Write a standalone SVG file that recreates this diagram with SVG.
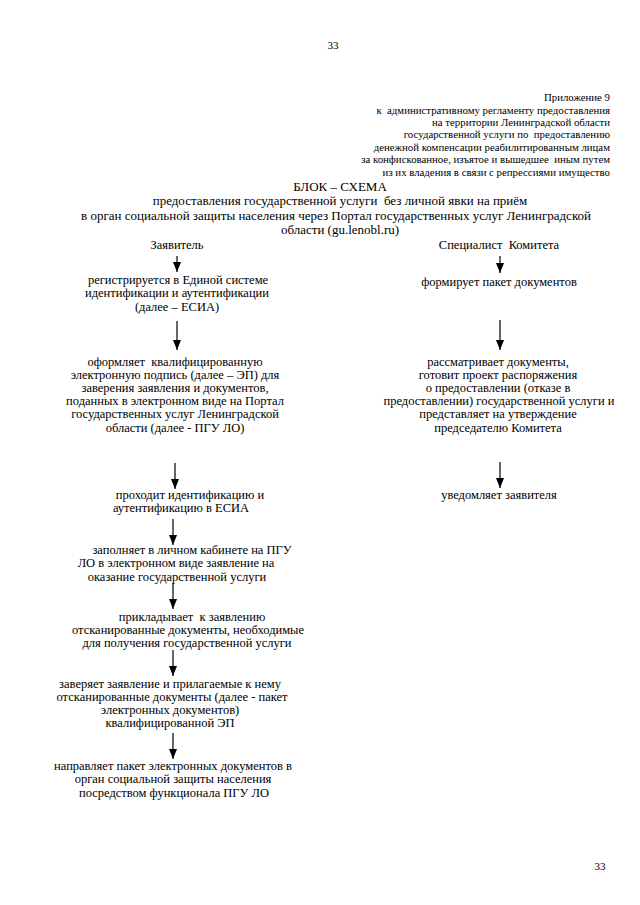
<svg xmlns="http://www.w3.org/2000/svg" width="640" height="905" viewBox="0 0 640 905">
<defs>
<marker id="ah" viewBox="0 0 10 8" refX="10" refY="4" markerWidth="10" markerHeight="8" markerUnits="userSpaceOnUse" orient="auto">
<path d="M0,0 L10,4 L0,8 Z" fill="#000"/>
</marker>
</defs>
<style>
text{font-family:"Liberation Serif","Times New Roman",serif;fill:#000;white-space:pre}
.pg{font-size:11px}
.hd{font-size:10.8px;text-anchor:end}
.tt{font-size:13px;text-anchor:middle}
.b{font-size:12.5px;text-anchor:middle}
.ar{stroke:#000;stroke-width:1.2;fill:none;marker-end:url(#ah)}
</style>
<rect width="640" height="905" fill="#fff"/>
<text class="pg" x="333" y="49" text-anchor="middle">33</text>
<g id="header">
<text class="hd" x="610" y="101">Приложение 9</text>
<text class="hd" x="610" y="113.5">к  административному регламенту предоставления</text>
<text class="hd" x="610" y="126">на территории Ленинградской области</text>
<text class="hd" x="610" y="138">государственной услуги по  предоставлению</text>
<text class="hd" x="610" y="150.5">денежной компенсации реабилитированным лицам</text>
<text class="hd" x="610" y="163">за конфискованное, изъятое и вышедшее  иным путем</text>
<text class="hd" x="610" y="175.5">из их владения в связи с репрессиями имущество</text>
</g>
<g id="title">
<text class="tt" x="340" y="191">БЛОК – СХЕМА</text>
<text class="tt" x="340" y="205">предоставления государственной услуги  без личной явки на приём</text>
<text class="tt" x="336" y="219.5">в орган социальной защиты населения через Портал государственных услуг Ленинградской</text>
<text class="tt" x="340" y="234">области (gu.lenobl.ru)</text>
</g>
<g id="applicant">
<text class="b" x="177" y="249">Заявитель</text>
</g>
<g id="specialist">
<text class="b" x="499" y="249">Специалист  Комитета</text>
</g>
<g id="l1">
<text class="b" x="178" y="284">регистрируется в Единой системе</text>
<text class="b" x="177" y="297">идентификации и аутентификации</text>
<text class="b" x="177" y="311">(далее – ЕСИА)</text>
</g>
<g id="l2">
<text class="b" x="175" y="366">оформляет  квалифицированную</text>
<text class="b" x="175" y="379">электронную подпись (далее – ЭП) для</text>
<text class="b" x="175" y="392">заверения заявления и документов,</text>
<text class="b" x="175" y="405">поданных в электронном виде на Портал</text>
<text class="b" x="175" y="418">государственных услуг Ленинградской</text>
<text class="b" x="175" y="432">области (далее - ПГУ ЛО)</text>
</g>
<g id="l3">
<text class="b" x="190" y="499">проходит идентификацию и</text>
<text class="b" x="181" y="512">аутентификацию в ЕСИА</text>
</g>
<g id="l4">
<text class="b" x="192" y="554">заполняет в личном кабинете на ПГУ</text>
<text class="b" x="176" y="567">ЛО в электронном виде заявление на</text>
<text class="b" x="177" y="581">оказание государственной услуги</text>
</g>
<g id="l5">
<text class="b" x="192" y="621">прикладывает  к заявлению</text>
<text class="b" x="188" y="634">отсканированные документы, необходимые</text>
<text class="b" x="187" y="647">для получения государственной услуги</text>
</g>
<g id="l6">
<text class="b" x="170" y="688">заверяет заявление и прилагаемые к нему</text>
<text class="b" x="172" y="701">отсканированные документы (далее - пакет</text>
<text class="b" x="170" y="714">электронных документов)</text>
<text class="b" x="170" y="727">квалифицированной ЭП</text>
</g>
<g id="l7">
<text class="b" x="173" y="770">направляет пакет электронных документов в</text>
<text class="b" x="173" y="783">орган социальной защиты населения</text>
<text class="b" x="174" y="797">посредством функционала ПГУ ЛО</text>
</g>
<g id="r1">
<text class="b" x="499" y="286">формирует пакет документов</text>
</g>
<g id="r2">
<text class="b" x="498" y="366">рассматривает документы,</text>
<text class="b" x="498" y="379">готовит проект распоряжения</text>
<text class="b" x="498" y="392">о предоставлении (отказе в</text>
<text class="b" x="499" y="405">предоставлении) государственной услуги и</text>
<text class="b" x="498" y="418">представляет на утверждение</text>
<text class="b" x="498" y="432">председателю Комитета</text>
</g>
<g id="r3">
<text class="b" x="499" y="499">уведомляет заявителя</text>
</g>
<g id="connectors">
<line class="ar" x1="177" y1="256" x2="177" y2="272"/>
<line class="ar" x1="177" y1="321" x2="177" y2="350"/>
<line class="ar" x1="175" y1="463" x2="175" y2="489"/>
<line class="ar" x1="173" y1="519" x2="173" y2="545"/>
<line class="ar" x1="173" y1="583" x2="173" y2="609"/>
<line class="ar" x1="173" y1="650" x2="173" y2="676"/>
<line class="ar" x1="173" y1="733" x2="173" y2="759"/>
<line class="ar" x1="500" y1="256" x2="500" y2="273"/>
<line class="ar" x1="500" y1="320" x2="500" y2="350"/>
<line class="ar" x1="500" y1="462" x2="500" y2="488"/>
</g>
<text class="pg" x="600" y="870" text-anchor="middle">33</text>
</svg>
